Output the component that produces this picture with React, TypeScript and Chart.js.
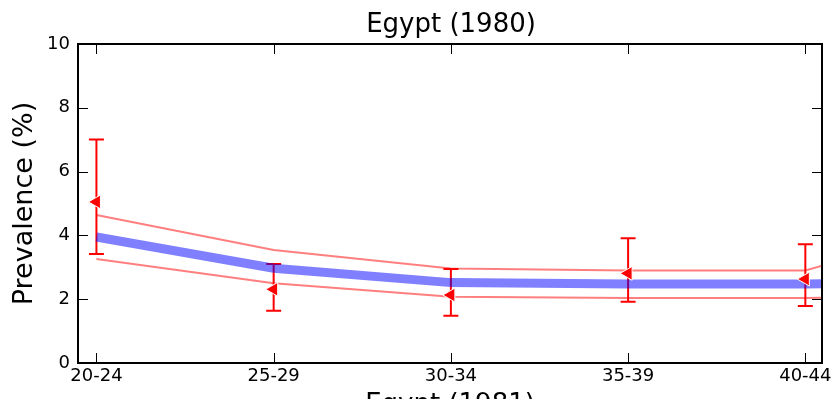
import React, { useEffect, useRef } from 'react';
import { Chart, registerables } from 'chart.js';

Chart.register(...registerables);

const TITLE = 'Egypt (1980)';
const X_TITLE = 'Egypt (1981)';
const Y_TITLE = 'Prevalence (%)';

const AGE_TICKS = [20, 25, 30, 35, 40];
const AGE_LABELS = ['20-24', '25-29', '30-34', '35-39', '40-44'];
const Y_TICKS = [0, 2, 4, 6, 8, 10];

const CURVE_AGES = [20, 25, 30, 35, 40, 45];
const MEAN = [3.95, 2.97, 2.52, 2.48, 2.48, 2.52];
const UPPER = [4.64, 3.54, 2.96, 2.9, 2.9, 4.5];
const LOWER = [3.26, 2.5, 2.08, 2.04, 2.04, 2.06];

const OBS = [5.05, 2.31, 2.13, 2.81, 2.63];
const OBS_LO = [3.42, 1.64, 1.48, 1.92, 1.79];
const OBS_HI = [7.01, 3.1, 2.95, 3.91, 3.72];

const FONT = 'DejaVu Sans';

const errorBarPlugin = {
  id: 'errorBars',
  beforeDatasetsDraw(chart: any) {
    const { ctx, scales } = chart;
    const xs = scales.x;
    const ys = scales.y;
    ctx.save();
    ctx.strokeStyle = '#ff0000';
    ctx.lineWidth = 2;
    AGE_TICKS.forEach((a, i) => {
      const x = xs.getPixelForValue(a);
      const yl = ys.getPixelForValue(OBS_LO[i]);
      const yh = ys.getPixelForValue(OBS_HI[i]);
      ctx.beginPath();
      ctx.moveTo(x, yl);
      ctx.lineTo(x, yh);
      ctx.moveTo(x - 7.5, yl);
      ctx.lineTo(x + 7.5, yl);
      ctx.moveTo(x - 7.5, yh);
      ctx.lineTo(x + 7.5, yh);
      ctx.stroke();
    });
    ctx.restore();
  },
};

const framePlugin = {
  id: 'frame',
  afterDatasetsDraw(chart: any) {
    const { ctx, chartArea: a, scales } = chart;
    ctx.save();
    ctx.strokeStyle = '#000';
    ctx.lineWidth = 1;
    ctx.beginPath();
    AGE_TICKS.forEach((v) => {
      const x = Math.round(scales.x.getPixelForValue(v)) + 0.5;
      ctx.moveTo(x, a.bottom);
      ctx.lineTo(x, a.bottom - 10);
      ctx.moveTo(x, a.top);
      ctx.lineTo(x, a.top + 10);
    });
    Y_TICKS.forEach((v) => {
      const y = Math.round(scales.y.getPixelForValue(v)) + 0.5;
      ctx.moveTo(a.left, y);
      ctx.lineTo(a.left + 10, y);
      ctx.moveTo(a.right, y);
      ctx.lineTo(a.right - 10, y);
    });
    ctx.stroke();
    ctx.lineWidth = 2;
    ctx.strokeRect(a.left, a.top, a.right - a.left, a.bottom - a.top);
    ctx.restore();
  },
};

const textPlugin = {
  id: 'texts',
  afterDraw(chart: any) {
    const { ctx, chartArea: a } = chart;
    const cx = (a.left + a.right) / 2;
    const cy = (a.top + a.bottom) / 2;
    ctx.save();
    ctx.fillStyle = '#000';
    ctx.textAlign = 'center';
    ctx.textBaseline = 'alphabetic';
    ctx.font = `26px "${FONT}"`;
    ctx.fillText(TITLE, cx + 1, 32);
    ctx.font = `26px "${FONT}"`;
    ctx.fillText(X_TITLE, cx, a.bottom + 49);
    ctx.translate(31.5, cy);
    ctx.rotate(-Math.PI / 2);
    ctx.font = `27px "${FONT}"`;
    ctx.fillText(Y_TITLE, 0, 0);
    ctx.restore();
  },
};

export default function App() {
  const ref = useRef<HTMLCanvasElement>(null);

  useEffect(() => {
    document.documentElement.style.overflow = 'hidden';
    document.body.style.overflow = 'hidden';
    const canvas = ref.current;
    if (!canvas) return;
    const chart = new Chart(canvas, {
      type: 'line',
      data: {
        datasets: [
          {
            label: 'observed',
            data: AGE_TICKS.map((a, i) => ({ x: a, y: OBS[i] })),
            showLine: false,
            pointStyle: 'triangle',
            rotation: 270,
            pointRadius: 8,
            pointBackgroundColor: '#ff0000',
            pointBorderColor: '#ffffff',
            pointBorderWidth: 1,
            order: 0,
          },
          {
            label: 'mean',
            data: CURVE_AGES.map((a, i) => ({ x: a, y: MEAN[i] })),
            borderColor: 'rgba(0,0,255,0.5)',
            borderWidth: 9,
            pointRadius: 0,
            tension: 0,
            order: 1,
          },
          {
            label: 'upper',
            data: CURVE_AGES.map((a, i) => ({ x: a, y: UPPER[i] })),
            borderColor: 'rgba(255,0,0,0.5)',
            borderWidth: 2,
            pointRadius: 0,
            tension: 0,
            order: 2,
          },
          {
            label: 'lower',
            data: CURVE_AGES.map((a, i) => ({ x: a, y: LOWER[i] })),
            borderColor: 'rgba(255,0,0,0.5)',
            borderWidth: 2,
            pointRadius: 0,
            tension: 0,
            order: 2,
          },
        ],
      },
      options: {
        responsive: false,
        animation: false,
        devicePixelRatio: 1,
        events: [],
        layout: { padding: { top: 44, right: 11, left: 0, bottom: 0 } },
        plugins: {
          legend: { display: false },
          tooltip: { enabled: false },
          title: { display: false },
        },
        scales: {
          x: {
            type: 'linear',
            min: 19.48,
            max: 40.47,
            grid: { display: false, drawTicks: false },
            border: { display: false },
            afterBuildTicks: (s: any) => {
              s.ticks = AGE_TICKS.map((v) => ({ value: v }));
            },
            afterFit: (s: any) => {
              s.height = 77;
              s.paddingLeft = 0;
              s.paddingRight = 0;
            },
            ticks: {
              autoSkip: false,
              maxRotation: 0,
              padding: 3,
              color: '#000',
              font: { family: FONT, size: 18 },
              callback: (v: any) => {
                const i = AGE_TICKS.indexOf(Number(v));
                return i >= 0 ? AGE_LABELS[i] : '';
              },
            },
          },
          y: {
            type: 'linear',
            min: 0,
            max: 10,
            grid: { display: false, drawTicks: false },
            border: { display: false },
            afterBuildTicks: (s: any) => {
              s.ticks = Y_TICKS.map((v) => ({ value: v }));
            },
            afterFit: (s: any) => {
              s.width = 78;
              s.paddingTop = 0;
              s.paddingBottom = 0;
            },
            ticks: {
              padding: 8,
              color: '#000',
              font: { family: FONT, size: 18 },
              callback: (v: any) => String(v),
            },
          },
        },
      },
      plugins: [errorBarPlugin, framePlugin, textPlugin],
    } as any);
    return () => chart.destroy();
  }, []);

  return (
    <div style={{ position: 'fixed', left: 0, top: 0, width: 833, height: 440, background: '#fff' }}>
      <canvas ref={ref} width={833} height={440} style={{ display: 'block', width: 833, height: 440 }} />
    </div>
  );
}
